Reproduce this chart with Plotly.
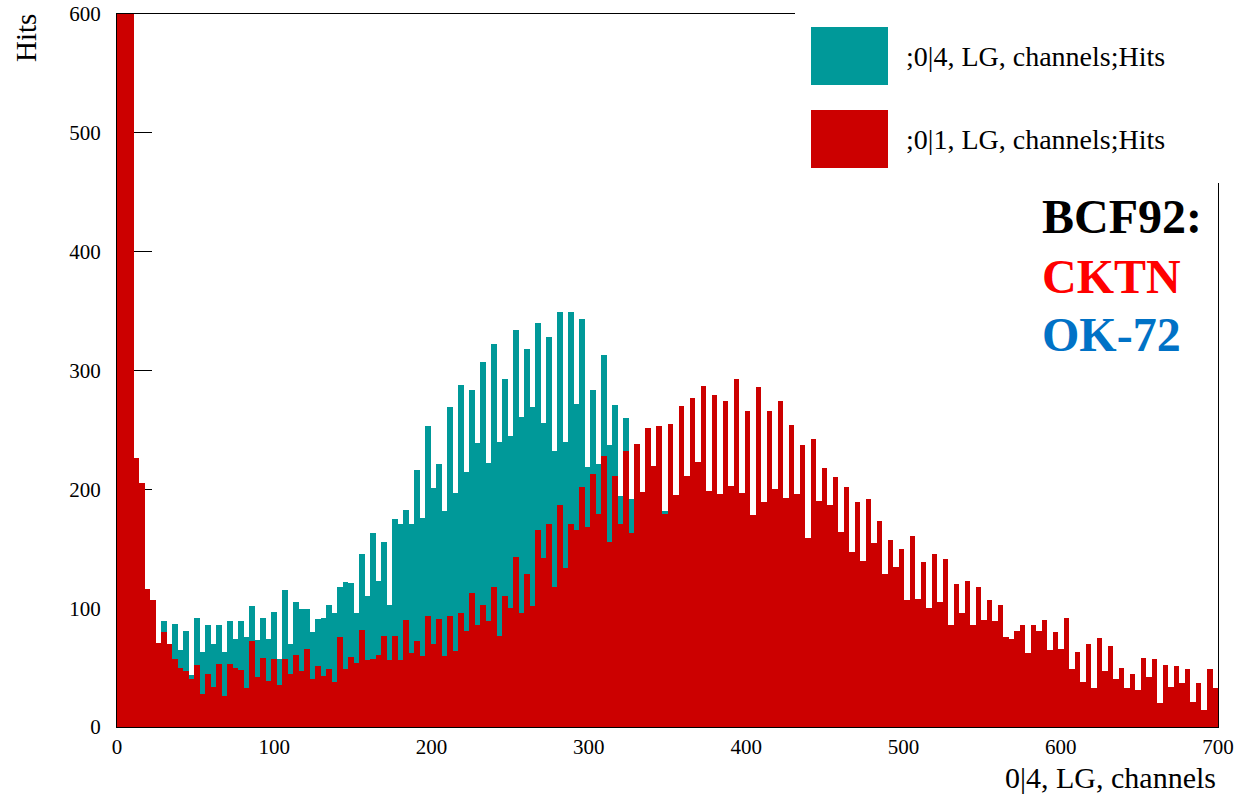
import numpy as np
import plotly.graph_objects as go

# ---------------- data ----------------
X_MIN, X_MAX = 0.0, 700.0
N_BINS = 200
Y_MAX = 600

X_TITLE = "0|4, LG, channels"
Y_TITLE = "Hits"
LEGEND_LABELS = [";0|4, LG, channels;Hits", ";0|1, LG, channels;Hits"]
TEAL = "#009999"
RED = "#CC0000"

# ;0|4 histogram (teal) - bin contents
hits_04 = [
    2100, 1200, 600, 200, 180, 100, 95, 68, 89, 66,
    87, 65, 81, 44, 92, 63, 86, 70, 86, 63,
    89, 74, 89, 76, 102, 73, 92, 74, 97, 57,
    115, 70, 105, 99, 99, 80, 91, 92, 103, 96,
    118, 122, 121, 96, 146, 110, 163, 123, 156, 103,
    175, 171, 183, 171, 216, 176, 253, 201, 221, 182,
    269, 197, 288, 215, 284, 239, 307, 222, 322, 240,
    293, 245, 334, 261, 318, 269, 340, 256, 328, 232,
    349, 240, 349, 272, 343, 219, 284, 221, 313, 237,
    271, 194, 260, 192, 215, 175, 212, 165, 200, 182,
    185, 140, 165, 125, 145, 110, 125, 92, 105, 78,
    88, 64, 72, 52, 58, 42, 46, 34, 36, 27,
    28, 21, 22, 16, 17, 12, 13, 9, 10, 7,
    7, 5, 5, 4, 4, 3, 3, 2, 2, 1,
    1, 1, 0, 1, 0, 0, 1, 0, 0, 0,
    0, 0, 0, 0, 0, 0, 0, 0, 0, 0,
    0, 0, 0, 0, 0, 0, 0, 0, 0, 0,
    0, 0, 0, 0, 0, 0, 0, 0, 0, 0,
    0, 0, 0, 0, 0, 0, 0, 0, 0, 0,
    0, 0, 0, 0, 0, 0, 0, 0, 0, 0,
]

# ;0|1 histogram (red) - bin contents
hits_01 = [
    2600, 1500, 800, 226, 205, 116, 107, 71, 80, 70,
    57, 50, 47, 40, 52, 28, 45, 34, 53, 26,
    53, 50, 48, 33, 72, 42, 58, 39, 57, 35,
    57, 45, 61, 47, 66, 40, 51, 43, 49, 38,
    76, 49, 59, 54, 82, 56, 57, 61, 77, 56,
    77, 56, 90, 62, 72, 60, 93, 70, 91, 60,
    93, 64, 96, 81, 113, 86, 103, 89, 118, 77,
    110, 100, 143, 96, 129, 102, 166, 142, 171, 118,
    187, 134, 171, 166, 202, 168, 213, 179, 228, 156,
    211, 171, 232, 163, 238, 198, 252, 220, 253, 179,
    255, 195, 270, 211, 277, 223, 287, 199, 279, 196,
    274, 203, 293, 197, 266, 178, 286, 189, 266, 200,
    274, 193, 254, 196, 237, 159, 242, 190, 218, 187,
    210, 164, 202, 147, 189, 140, 192, 155, 173, 129,
    157, 135, 150, 107, 161, 108, 139, 100, 146, 105,
    141, 86, 120, 96, 123, 86, 118, 90, 107, 89,
    103, 76, 74, 81, 86, 62, 86, 81, 90, 65,
    80, 66, 92, 49, 63, 38, 70, 33, 75, 47,
    68, 40, 50, 33, 45, 31, 58, 42, 57, 20,
    52, 34, 51, 37, 49, 21, 37, 14, 49, 33,
]

bin_width = (X_MAX - X_MIN) / N_BINS
centers = X_MIN + bin_width * (np.arange(N_BINS) + 0.5)

SERIF = "Liberation Serif"

fig = go.Figure()
fig.add_trace(go.Bar(x=centers, y=hits_04, width=bin_width, name=LEGEND_LABELS[0],
                     marker=dict(color=TEAL, line=dict(width=0))))
fig.add_trace(go.Bar(x=centers, y=hits_01, width=bin_width, name=LEGEND_LABELS[1],
                     marker=dict(color=RED, line=dict(width=0))))

axis_common = dict(
    showgrid=False, zeroline=False, showline=True, linecolor="black", linewidth=1,
    mirror=True, ticks="inside", tickcolor="black", tickwidth=1, automargin=False,
    layer="below traces", tickfont=dict(family=SERIF, size=21, color="black"),
)

fig.update_layout(
    width=1235, height=794,
    margin=dict(l=117, r=17, t=14, b=67, autoexpand=False),
    plot_bgcolor="white", paper_bgcolor="white",
    barmode="overlay", bargap=0, showlegend=False,
    xaxis=dict(range=[X_MIN, X_MAX], tick0=0, dtick=100, ticklen=20,
               minor=dict(ticks="inside", ticklen=10, dtick=20, tickcolor="black"),
               ticklabelstandoff=1, **axis_common),
    yaxis=dict(range=[0, Y_MAX], tick0=0, dtick=100, ticklen=35,
               minor=dict(ticks="inside", ticklen=17, dtick=20, tickcolor="black"),
               ticklabelstandoff=11, **axis_common),
)

def px_x(p):
    return (p - 117) / 1101.0

def px_y(p):
    return (727 - p) / 713.0

shapes = [
    # legend box (white, borderless) covering frame corner
    dict(type="rect", xref="paper", yref="paper", x0=px_x(795), x1=px_x(1235),
         y0=px_y(183), y1=px_y(0), fillcolor="white", line=dict(width=0), layer="above"),
    dict(type="rect", xref="paper", yref="paper", x0=px_x(811), x1=px_x(888),
         y0=px_y(85), y1=px_y(27), fillcolor=TEAL, line=dict(width=0), layer="above"),
    dict(type="rect", xref="paper", yref="paper", x0=px_x(811), x1=px_x(888),
         y0=px_y(168), y1=px_y(110), fillcolor=RED, line=dict(width=0), layer="above"),
]
fig.update_layout(shapes=shapes)

ann = [
    dict(text=LEGEND_LABELS[0], x=px_x(904), y=px_y(56), xanchor="left", yanchor="middle"),
    dict(text=LEGEND_LABELS[1], x=px_x(904), y=px_y(139), xanchor="left", yanchor="middle"),
]
for a in ann:
    a.update(xref="paper", yref="paper", showarrow=False,
             font=dict(family=SERIF, size=28, color="black"))

ann += [
    dict(text="<b>BCF92:</b>", x=px_x(1040), y=px_y(217), xanchor="left", yanchor="middle",
         xref="paper", yref="paper", showarrow=False,
         font=dict(family=SERIF, size=48, color="black")),
    dict(text="<b>CKTN</b>", x=px_x(1040), y=px_y(276), xanchor="left", yanchor="middle",
         xref="paper", yref="paper", showarrow=False,
         font=dict(family=SERIF, size=48, color="#FF0000")),
    dict(text="<b>OK-72</b>", x=px_x(1040), y=px_y(334), xanchor="left", yanchor="middle",
         xref="paper", yref="paper", showarrow=False,
         font=dict(family=SERIF, size=48, color="#0072C6")),
    dict(text=X_TITLE, x=1.0, y=px_y(777), xanchor="right", yanchor="middle",
         xref="paper", yref="paper", showarrow=False,
         font=dict(family=SERIF, size=30, color="black")),
    dict(text=Y_TITLE, x=px_x(26), y=px_y(38), xanchor="center", yanchor="middle",
         xref="paper", yref="paper", showarrow=False, textangle=-90,
         font=dict(family=SERIF, size=29, color="black")),
]
fig.update_layout(annotations=ann)

fig.write_html("out.html")
